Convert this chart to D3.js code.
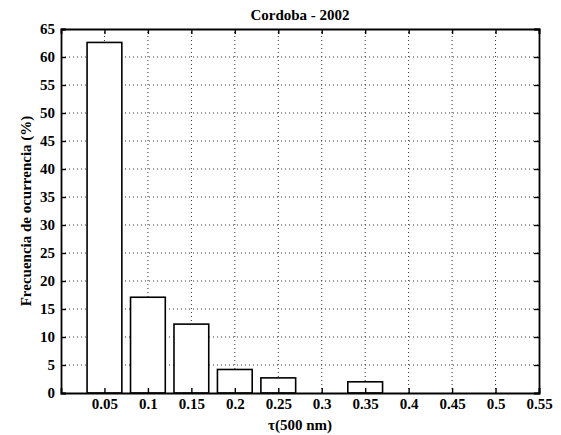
<!DOCTYPE html>
<html>
<head>
<meta charset="utf-8">
<script src="https://cdn.jsdelivr.net/npm/d3@7"></script>
<style>
  body { margin: 0; background: #fff; }
  text { font-family: "Liberation Serif", "DejaVu Serif", serif; }
</style>
</head>
<body>
<div id="chart"></div>
<script>
// bin centres of tau(500 nm) and frequency of occurrence (%)
const tauBins = [0.05, 0.1, 0.15, 0.2, 0.25, 0.3, 0.35, 0.4, 0.45, 0.5];
const frequency = [62.6, 17.1, 12.3, 4.2, 2.7, 0, 2.0, 0, 0, 0];
const xTicks = [0.05, 0.1, 0.15, 0.2, 0.25, 0.3, 0.35, 0.4, 0.45, 0.5, 0.55];
const yTicks = [0, 5, 10, 15, 20, 25, 30, 35, 40, 45, 50, 55, 60, 65];

const W = 561, H = 435;
const m = {top: 29, right: 22, bottom: 42, left: 61};

const svg = d3.select("#chart")
  .append("svg")
    .attr("width", W)
    .attr("height", H)

const x = d3.scaleLinear().domain([0, 0.55]).range([m.left, W - m.right])
const y = d3.scaleLinear().domain([0, 65]).range([H - m.bottom, m.top])

// dotted grid (under the bars)
svg.append("g").selectAll("line")
  .data(xTicks.slice(0, -1))
  .enter().append("line")
    .attr("x1", d => x(d)).attr("x2", d => x(d))
    .attr("y1", y(0)).attr("y2", y(65))
    .attr("stroke", "#333").attr("stroke-width", 1)
    .attr("stroke-dasharray", "1,3")

svg.append("g").selectAll("line")
  .data(yTicks.slice(1, -1))
  .enter().append("line")
    .attr("x1", x(0)).attr("x2", x(0.55))
    .attr("y1", d => y(d)).attr("y2", d => y(d))
    .attr("stroke", "#333").attr("stroke-width", 1)
    .attr("stroke-dasharray", "1,3")

// bars
const bw = 0.04
svg.append("g").selectAll("rect")
  .data(tauBins)
  .enter().append("rect")
    .attr("x", d => x(d - bw / 2))
    .attr("y", (d, i) => y(frequency[i]))
    .attr("width", x(bw) - x(0))
    .attr("height", (d, i) => y(0) - y(frequency[i]))
    .attr("fill", "#fff")
    .attr("stroke", "#000")
    .attr("stroke-width", 1.6)

// axes (ticks inward, MATLAB style)
const tickFmt = d => d3.format("")(d)
svg.append("g")
  .attr("transform", `translate(0,${y(0)})`)
  .call(d3.axisBottom(x).tickValues(xTicks).tickSize(-5).tickPadding(5).tickFormat(tickFmt))
svg.append("g")
  .attr("transform", `translate(0,${y(65)})`)
  .call(d3.axisTop(x).tickValues(xTicks).tickSize(-5).tickFormat(""))
svg.append("g")
  .attr("transform", `translate(${x(0)},0)`)
  .call(d3.axisLeft(y).tickValues(yTicks).tickSize(-5).tickPadding(6))
svg.append("g")
  .attr("transform", `translate(${x(0.55)},0)`)
  .call(d3.axisRight(y).tickValues(yTicks).tickSize(-5).tickFormat(""))

svg.selectAll(".domain").attr("stroke", "#000").attr("stroke-width", 1.8)
svg.selectAll(".tick line").attr("stroke", "#000").attr("stroke-width", 1.4)
svg.selectAll(".tick text")
  .attr("font-family", "Liberation Serif, serif")
  .attr("font-size", 15)
  .attr("font-weight", "bold")
  .attr("fill", "#000")

// titles
svg.append("text")
  .attr("x", x(0.275)).attr("y", 20)
  .attr("text-anchor", "middle")
  .attr("font-size", 15).attr("font-weight", "bold")
  .text("Cordoba - 2002")

svg.append("text")
  .attr("x", x(0.275)).attr("y", 430)
  .attr("text-anchor", "middle")
  .attr("font-size", 15).attr("font-weight", "bold")
  .text("τ(500 nm)")

svg.append("text")
  .attr("transform", `translate(31,${y(32.5)}) rotate(-90)`)
  .attr("text-anchor", "middle")
  .attr("font-size", 15).attr("font-weight", "bold")
  .text("Frecuencia de ocurrencia (%)")
</script>
</body>
</html>
